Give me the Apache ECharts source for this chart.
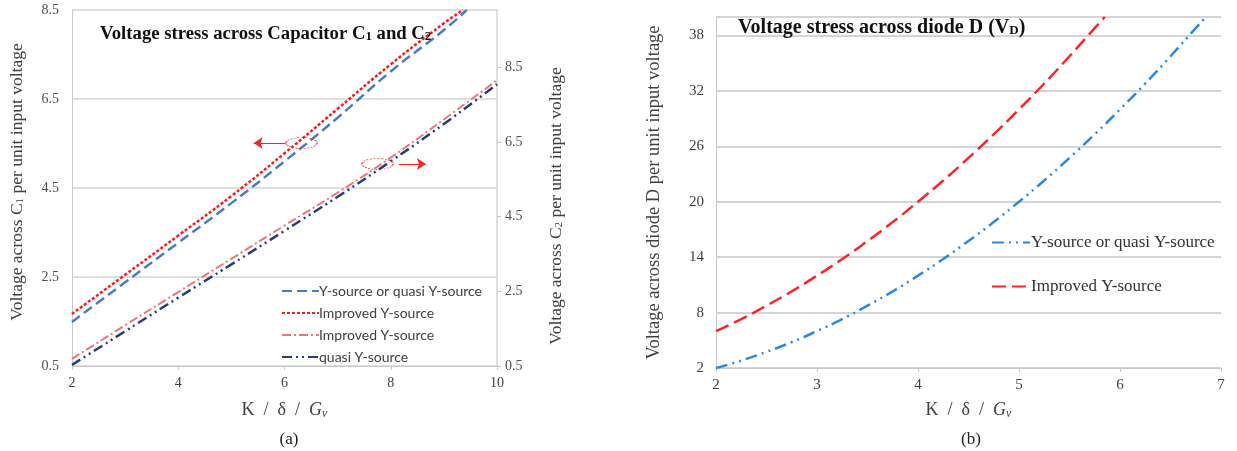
<!DOCTYPE html>
<html>
<head>
<meta charset="utf-8">
<script src="https://cdn.jsdelivr.net/npm/echarts@6/dist/echarts.min.js"></script>
<style>html,body{margin:0;padding:0;background:#fff}#c{width:1237px;height:451px}</style>
</head>
<body>
<div id="c"></div>
<script>
// ---- Chart (a): capacitor voltage stress ----
const aX_C1 = [2, 3, 4, 5, 6, 7, 8, 9, 9.36, 9.43];
const aImprovedC1 = [1.67, 2.55, 3.43, 4.32, 5.28, 6.28, 7.28, 8.2, 8.5, null];
const aYsourceC1 = [1.49, 2.38, 3.27, 4.16, 5.1, 6.08, 7.12, 8.05, null, 8.5];
const aX_C2 = [2, 3, 4, 5, 6, 7, 8, 9, 10];
const aImprovedC2 = [0.69, 1.59, 2.48, 3.37, 4.26, 5.14, 6.08, 7.1, 8.15];
const aQuasiC2 = [0.53, 1.43, 2.33, 3.22, 4.12, 5.03, 5.98, 6.98, 8.04];
const aXTicks = [2, 4, 6, 8, 10];
const aYTicks = [0.5, 2.5, 4.5, 6.5, 8.5];
// annotation positions (data units, left axis)
const annoEllipse = [[6.32, 5.51], [7.75, 5.04]];
const annoArrow1 = [[6.02, 5.51], [5.42, 5.51]];
const annoArrow2 = [[8.15, 5.04], [8.66, 5.04]];

// ---- Chart (b): diode voltage stress ----
const bX_Improved = [2, 2.25, 2.5, 2.75, 3, 3.25, 3.5, 3.75, 4, 4.25, 4.5, 4.75, 5, 5.25, 5.5, 5.75, 5.85];
const bImproved = [6, 7.3, 8.75, 10.3, 12, 13.8, 15.75, 17.8, 20, 22.3, 24.75, 27.3, 30, 32.8, 35.75, 38.8, 40];
const bX_Ysource = [2, 2.25, 2.5, 2.75, 3, 3.25, 3.5, 3.75, 4, 4.25, 4.5, 4.75, 5, 5.25, 5.5, 5.75, 6, 6.25, 6.5, 6.75, 6.85];
const bYsource = [2, 2.8, 3.75, 4.8, 6, 7.3, 8.75, 10.3, 12, 13.8, 15.75, 17.8, 20, 22.3, 24.75, 27.3, 30, 32.8, 35.75, 38.8, 40];
const bXTicks = [2, 3, 4, 5, 6, 7];
const bYTicks = [2, 8, 14, 20, 26, 32, 38];

const zip = (xs, ys) => xs.map((x, i) => [x, ys[i]]).filter(p => p[1] !== null);

const SERIF = '"Liberation Serif", "Times New Roman", serif';
const SANS = 'Lato, "Open Sans", sans-serif';
const subRich = {
  s: { fontSize: 11, fontFamily: SERIF, color: '#404040', verticalAlign: 'bottom' }
};
const ellipsePath = 'path://M0,5 C0,2.24 4.48,0 10,0 C15.52,0 20,2.24 20,5 C20,7.76 15.52,10 10,10 C4.48,10 0,7.76 0,5 Z';
const cleanName = n => n.replace(/[\u200b]+/g, '');

const chart = echarts.init(document.getElementById('c'), null, { renderer: 'canvas' });

const xNameRich = {
  n: { fontFamily: SERIF, fontSize: 18, color: '#404040' },
  g: { fontFamily: SERIF, fontSize: 18, fontStyle: 'italic', color: '#404040' },
  v: { fontFamily: SERIF, fontSize: 12, fontStyle: 'italic', color: '#404040', verticalAlign: 'bottom', padding: [7, 0, 0, 0] }
};
const titleRich = { s: { fontFamily: SERIF, fontSize: 13, fontWeight: 'bold', color: '#111', padding: [5, 0, 0, 0] } };

const option = {
  backgroundColor: '#fff',
  animation: false,
  title: [
    { text: 'Voltage stress across Capacitor C{s|1} and C{s|2}', left: 95, top: 20,
      textStyle: { fontFamily: SERIF, fontSize: 18.7, fontWeight: 'bold', color: '#111', rich: titleRich } },
    { text: 'Voltage stress across diode D (V{s|D})', left: 733, top: 13,
      textStyle: { fontFamily: SERIF, fontSize: 20, fontWeight: 'bold', color: '#111', rich: titleRich } },
    { text: '(a)', left: 284, top: 426, textAlign: 'center', textStyle: { fontFamily: SERIF, fontSize: 17, fontWeight: 'normal', color: '#222' } },
    { text: '(b)', left: 966, top: 426, textAlign: 'center', textStyle: { fontFamily: SERIF, fontSize: 17, fontWeight: 'normal', color: '#222' } }
  ],
  grid: [
    { left: 72, right: 740, top: 10, bottom: 85, containLabel: false },
    { left: 716, right: 16, top: 17, bottom: 83, containLabel: false }
  ],
  legend: [
    { orient: 'vertical', left: 276, top: 279, itemGap: 8, itemWidth: 37, itemHeight: 14,
      data: ['Y-source or quasi Y-source', 'Improved Y-source', 'Improved Y-source\u200b', 'quasi Y-source'],
      formatter: cleanName, selectedMode: false,
      itemStyle: { opacity: 0 },
      textStyle: { fontFamily: SANS, fontSize: 14, color: '#404040', padding: [0, 0, 0, -5] } },
    { orient: 'vertical', left: 986, top: 229, itemGap: 27, itemWidth: 38, itemHeight: 14,
      data: ['Y-source or quasi Y-source\u200b\u200b', 'Improved Y-source\u200b\u200b'],
      formatter: cleanName, selectedMode: false,
      itemStyle: { opacity: 0 },
      textStyle: { fontFamily: SERIF, fontSize: 17, color: '#333', padding: [0, 0, 0, -4] } }
  ],
  xAxis: [
    { gridIndex: 0, type: 'value', min: 2, max: 10, interval: 2,
      name: '{n|K  /  δ  /  }{g|G}{v|v}', nameLocation: 'middle', nameGap: 35,
      nameTextStyle: { rich: xNameRich },
      axisLine: { show: true, lineStyle: { color: '#c8c8c8', width: 1 } },
      axisTick: { show: true, length: 4, lineStyle: { color: '#c8c8c8' } },
      axisLabel: { fontFamily: SERIF, fontSize: 14, color: '#404040', margin: 10 },
      splitLine: { show: false } },
    { gridIndex: 1, type: 'value', min: 2, max: 7, interval: 1,
      name: '{n|K  /  δ  /  }{g|G}{v|v}', nameLocation: 'middle', nameGap: 33,
      nameTextStyle: { rich: xNameRich },
      axisLine: { show: true, lineStyle: { color: '#c8c8c8', width: 1 } },
      axisTick: { show: true, length: 4, lineStyle: { color: '#c8c8c8' } },
      axisLabel: { fontFamily: SERIF, fontSize: 15, color: '#404040', margin: 10 },
      splitLine: { show: false } }
  ],
  yAxis: [
    { gridIndex: 0, type: 'value', min: 0.5, max: 8.5, interval: 2, position: 'left',
      name: 'Voltage across C{s|1} per unit input voltage', nameLocation: 'middle', nameGap: 46, nameRotate: 90,
      nameTextStyle: { fontFamily: SERIF, fontSize: 17.5, color: '#404040', rich: subRich, padding: [0, 0, 0, 12] },
      axisLine: { show: true, lineStyle: { color: '#c8c8c8', width: 1 } },
      axisTick: { show: false },
      axisLabel: { fontFamily: SERIF, fontSize: 14, color: '#505050', margin: 13, formatter: v => v.toFixed(1) },
      splitLine: { show: true, lineStyle: { color: '#d4d4d4', width: 1.5 } } },
    { gridIndex: 0, type: 'value', min: 0.5, max: 10.03, interval: 2, position: 'right',
      name: 'Voltage across C{s|2} per unit input voltage', nameLocation: 'middle', nameGap: 50, nameRotate: 90,
      nameTextStyle: { fontFamily: SERIF, fontSize: 17.5, color: '#404040', rich: subRich, padding: [0, 36, 0, 0] },
      axisLine: { show: true, lineStyle: { color: '#d4d4d4', width: 1.5 } },
      axisTick: { show: true, length: 4, inside: false, lineStyle: { color: '#c8c8c8' } },
      axisLabel: { fontFamily: SERIF, fontSize: 14, color: '#505050', margin: 8, showMaxLabel: false,
        formatter: v => (aYTicks.some(t => Math.abs(t - v) < 1e-6) ? v.toFixed(1) : '') },
      splitLine: { show: false } },
    { gridIndex: 1, type: 'value', min: 2, max: 40, interval: 6,
      name: 'Voltage across diode D per unit input voltage', nameLocation: 'middle', nameGap: 52, nameRotate: 90,
      nameTextStyle: { fontFamily: SERIF, fontSize: 18.5, color: '#404040' },
      axisLine: { show: true, lineStyle: { color: '#c8c8c8', width: 1 } },
      axisTick: { show: false },
      axisLabel: { fontFamily: SERIF, fontSize: 15, color: '#404040', margin: 12, showMaxLabel: false,
        formatter: v => (bYTicks.indexOf(v) >= 0 ? String(v) : '') },
      splitLine: { show: true, lineStyle: { color: '#d4d4d4', width: 2 } } }
  ],
  series: [
    { name: 'Y-source or quasi Y-source', type: 'line', xAxisIndex: 0, yAxisIndex: 0, smooth: true,
      symbol: 'none', data: zip(aX_C1, aYsourceC1), color: '#4A7EBB',
      lineStyle: { color: '#4A7EBB', width: 2.5, type: [10, 5] } },
    { name: 'Improved Y-source', type: 'line', xAxisIndex: 0, yAxisIndex: 0, smooth: true,
      symbol: 'none', data: zip(aX_C1, aImprovedC1), color: '#FF1A1A',
      lineStyle: { color: '#FF1A1A', width: 2.5, type: [3, 2] },
      markLine: { silent: true, symbol: ['none', 'arrow'], symbolSize: 9, label: { show: false },
        lineStyle: { color: '#FF2020', width: 1, type: 'solid' },
        data: [
          [{ coord: annoArrow1[0] }, { coord: annoArrow1[1] }],
          [{ coord: annoArrow2[0] }, { coord: annoArrow2[1] }]
        ] },
      markPoint: { silent: true, symbol: ellipsePath, symbolSize: [31, 11], label: { show: false },
        itemStyle: { color: 'rgba(0,0,0,0)', borderColor: '#FF3030', borderWidth: 1.2, borderType: 'dotted' },
        data: annoEllipse.map(c => ({ coord: c })) } },
    { name: 'Improved Y-source\u200b', type: 'line', xAxisIndex: 0, yAxisIndex: 1, smooth: true,
      symbol: 'none', data: zip(aX_C2, aImprovedC2), color: '#E8787A',
      lineStyle: { color: '#E8787A', width: 2, type: [9, 3, 2, 3] } },
    { name: 'quasi Y-source', type: 'line', xAxisIndex: 0, yAxisIndex: 1, smooth: true,
      symbol: 'none', data: zip(aX_C2, aQuasiC2), color: '#263F73',
      lineStyle: { color: '#263F73', width: 2.5, type: [10, 4, 2, 4, 2, 4] } },
    { name: 'Y-source or quasi Y-source\u200b\u200b', type: 'line', xAxisIndex: 1, yAxisIndex: 2, smooth: true,
      symbol: 'none', data: zip(bX_Ysource, bYsource), color: '#2D8AD8',
      lineStyle: { color: '#2D8AD8', width: 2.5, type: [12, 5, 2, 5, 2, 5] } },
    { name: 'Improved Y-source\u200b\u200b', type: 'line', xAxisIndex: 1, yAxisIndex: 2, smooth: true,
      symbol: 'none', data: zip(bX_Improved, bImproved), color: '#FF2424',
      lineStyle: { color: '#FF2424', width: 2.5, type: [14, 6] } }
  ]
};
chart.setOption(option);
</script>
</body>
</html>
